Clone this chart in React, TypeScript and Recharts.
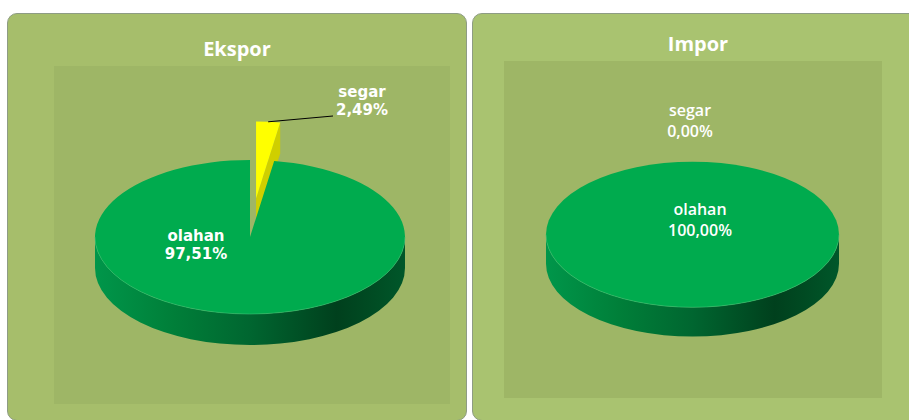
import { Pie, PieChart } from "recharts";

// slices, in clockwise order from 12 o'clock
const categories = ["segar", "olahan"];
const eksporValues = [2.49, 97.51];
const imporValues = [0, 100];

const TOP_COLORS: Record<string, string> = { segar: "#ffff00", olahan: "#00ab4e" };
const CUT_COLORS: Record<string, string> = { segar: "#cfcf00", olahan: "#007a36" };

const TILT = 0.497; // ry / rx of the top face
const DEPTH = 0.2; // side wall height, as a share of the radius
const EXPLODE = 0.5; // pulled-out slice offset, as a share of the radius

type Slice = { name: string; value: number };

const eksporData: Slice[] = categories.map((name, i) => ({ name, value: eksporValues[i] }));
const imporData: Slice[] = categories.map((name, i) => ({ name, value: imporValues[i] }));

const rad = (a: number) => (a * Math.PI) / 180;
const fmt = (n: number) => n.toFixed(2) + "," .slice(0, 0);

function pt(cx: number, cy: number, rx: number, ry: number, a: number) {
  return [cx + rx * Math.cos(rad(a)), cy - ry * Math.sin(rad(a))];
}

function Slice3D(props: any) {
  const { cx, cy, outerRadius, startAngle, endAngle, name, gradId, exploded } = props;
  const span = Math.abs(endAngle - startAngle);
  if (!(span > 0.01)) return null;
  const rx = outerRadius;
  const ry = outerRadius * TILT;
  const d = outerRadius * DEPTH;
  const mid = (startAngle + endAngle) / 2;
  const off = exploded ? outerRadius * EXPLODE : 0;
  const ox = cx + off * Math.cos(rad(mid));
  const oy = cy - off * TILT * Math.sin(rad(mid));
  const P = (a: number) => pt(ox, oy, rx, ry, a);
  const lo = Math.min(startAngle, endAngle);
  const hi = Math.max(startAngle, endAngle);
  const full = span >= 359.99;

  // cut faces that face the viewer
  const cuts: number[] = [];
  if (!full) {
    if (Math.cos(rad(lo)) > 0.001) cuts.push(lo);
    if (Math.cos(rad(hi)) < -0.001) cuts.push(hi);
  }

  // front (visible) part of the outer wall
  const walls: [number, number][] = [];
  for (let k = -2; k <= 2; k++) {
    const b1 = Math.max(lo, 180 + 360 * k);
    const b2 = Math.min(hi, 360 + 360 * k);
    if (b2 - b1 > 0.01) walls.push([b1, b2]);
  }

  let top: JSX.Element;
  if (full) {
    top = <ellipse cx={ox} cy={oy} rx={rx} ry={ry} fill={TOP_COLORS[name]} />;
  } else {
    const [x1, y1] = P(startAngle);
    const [x2, y2] = P(endAngle);
    const large = span > 180 ? 1 : 0;
    const sweep = endAngle < startAngle ? 1 : 0;
    top = (
      <path
        d={`M${ox},${oy} L${x1},${y1} A${rx},${ry} 0 ${large} ${sweep} ${x2},${y2} Z`}
        fill={TOP_COLORS[name]}
      />
    );
  }

  return (
    <g>
      <defs>
        <linearGradient id={gradId} gradientUnits="userSpaceOnUse" x1={ox - rx} y1={0} x2={ox + rx} y2={0}>
          <stop offset="0" stopColor="#00964a" />
          <stop offset="0.25" stopColor="#007f39" />
          <stop offset="0.5" stopColor="#006630" />
          <stop offset="0.78" stopColor="#00401d" />
          <stop offset="0.88" stopColor="#004a22" />
          <stop offset="1" stopColor="#00572a" />
        </linearGradient>
      </defs>
      {cuts.map((a) => {
        const [x, y] = P(a);
        return (
          <path
            key={a}
            d={`M${ox},${oy} L${x},${y} L${x},${y + d} L${ox},${oy + d} Z`}
            fill={CUT_COLORS[name]}
          />
        );
      })}
      {walls.map(([b1, b2]) => {
        const [x1, y1] = P(b1);
        const [x2, y2] = P(b2);
        return (
          <path
            key={b1}
            d={`M${x1},${y1} A${rx},${ry} 0 0 0 ${x2},${y2} L${x2},${y2 + d} A${rx},${ry} 0 0 1 ${x1},${y1 + d} Z`}
            fill={name === "olahan" ? `url(#${gradId})` : CUT_COLORS[name]}
          />
        );
      })}
      {top}
      {walls.map(([b1, b2]) => {
        const [x1, y1] = P(b1);
        const [x2, y2] = P(b2);
        return (
          <path
            key={"rim" + b1}
            d={`M${x1},${y1} A${rx},${ry} 0 0 0 ${x2},${y2}`}
            fill="none"
            stroke="#3fc47a"
            strokeOpacity={0.55}
            strokeWidth={1}
          />
        );
      })}
    </g>
  );
}

type PanelProps = {
  id: string;
  title: string;
  data: Slice[];
  left: number;
  width: number;
  bg: string;
  plot: [number, number, number, number];
  titlePos: [number, number];
  pie: [number, number, number];
  exploded?: string;
  labelPos: Record<string, [number, number]>;
  leader?: { name: string; to: [number, number] };
  labelFont: { family: string; weight: number; size: number; lh: number };
};

function PiePanel(p: PanelProps) {
  const [pcx, pcy, r] = p.pie;
  const renderLabel = (lp: any) => {
    const { cx, cy, percent, name, startAngle, endAngle } = lp;
    const [dx, dy] = p.labelPos[name] || [0, 0];
    const x = cx + dx;
    const y = cy + dy;
    const txt = (percent * 100).toFixed(2).replace(".", ",") + "%";
    let line = null;
    if (p.leader && p.leader.name === name) {
      const mid = (startAngle + endAngle) / 2;
      const off = p.exploded === name ? r * EXPLODE : 0;
      const ox = cx + off * Math.cos(rad(mid));
      const oy = cy - off * TILT * Math.sin(rad(mid));
      const [lx, ly] = pt(ox, oy, r, r * TILT, mid);
      line = (
        <line x1={lx} y1={ly} x2={cx + p.leader.to[0]} y2={cy + p.leader.to[1]} stroke="#000" strokeWidth={1} />
      );
    }
    const f = p.labelFont;
    return (
      <g key={name}>
        {line}
        <text
          x={x}
          y={y}
          textAnchor="middle"
          fill="#fff"
          fontFamily={f.family}
          fontWeight={f.weight}
          fontSize={f.size}
        >
          <tspan x={x} dy={-f.lh / 2 + f.size * 0.35}>{name}</tspan>
          <tspan x={x} dy={f.lh}>{txt}</tspan>
        </text>
      </g>
    );
  };

  return (
    <div
      style={{
        position: "absolute",
        left: p.left,
        top: 13,
        width: p.width,
        height: 408,
        boxSizing: "border-box",
        border: "1px solid #8e9c84",
        borderRadius: 10,
        background: p.bg,
        overflow: "hidden",
      }}
    >
      <div
        style={{
          position: "absolute",
          left: p.plot[0],
          top: p.plot[1],
          width: p.plot[2],
          height: p.plot[3],
          background: "#9eb666",
        }}
      />
      <div
        style={{
          position: "absolute",
          left: p.titlePos[0] - 100,
          top: p.titlePos[1] - 14,
          width: 200,
          height: 28,
          lineHeight: "28px",
          textAlign: "center",
          color: "#fff",
          fontFamily: "'Open Sans', sans-serif",
          fontWeight: 700,
          fontSize: 20,
        }}
      >
        {p.title}
      </div>
      <div style={{ position: "absolute", left: 0, top: 0 }}>
        <PieChart width={p.width} height={408} margin={{ top: 0, right: 0, bottom: 0, left: 0 }}>
          <Pie
            data={p.data}
            dataKey="value"
            nameKey="name"
            cx={pcx}
            cy={pcy}
            outerRadius={r}
            startAngle={90}
            endAngle={-270}
            stroke="none"
            isAnimationActive={false}
            labelLine={false}
            label={renderLabel}
            shape={(sp: any) => (
              <Slice3D {...sp} gradId={`${p.id}-side-${sp.name}`} exploded={sp.name === p.exploded} />
            )}
          />
        </PieChart>
      </div>
    </div>
  );
}

export default function App() {
  return (
    <div
      style={{
        position: "absolute",
        left: 0,
        top: 0,
        width: 909,
        height: 420,
        overflow: "hidden",
        background: "#fff",
      }}
    >
      <PiePanel
        id="ekspor"
        title="Ekspor"
        data={eksporData}
        left={7}
        width={460}
        bg="#a6be6b"
        plot={[46, 52, 396, 338]}
        titlePos={[229, 35]}
        pie={[242, 223, 155]}
        exploded="segar"
        labelPos={{ segar: [112, -136], olahan: [-54, 8] }}
        leader={{ name: "segar", to: [83, -121] }}
        labelFont={{ family: "'DejaVu Sans', sans-serif", weight: 700, size: 15, lh: 18 }}
      />
      <PiePanel
        id="impor"
        title="Impor"
        data={imporData}
        left={472}
        width={450}
        bg="#a9c370"
        plot={[31, 47, 378, 337]}
        titlePos={[225, 30]}
        pie={[219.5, 220.5, 146.5]}
        labelPos={{ segar: [-2.5, -114], olahan: [7.5, -15] }}
        labelFont={{ family: "'Open Sans', sans-serif", weight: 600, size: 16, lh: 21 }}
      />
    </div>
  );
}
